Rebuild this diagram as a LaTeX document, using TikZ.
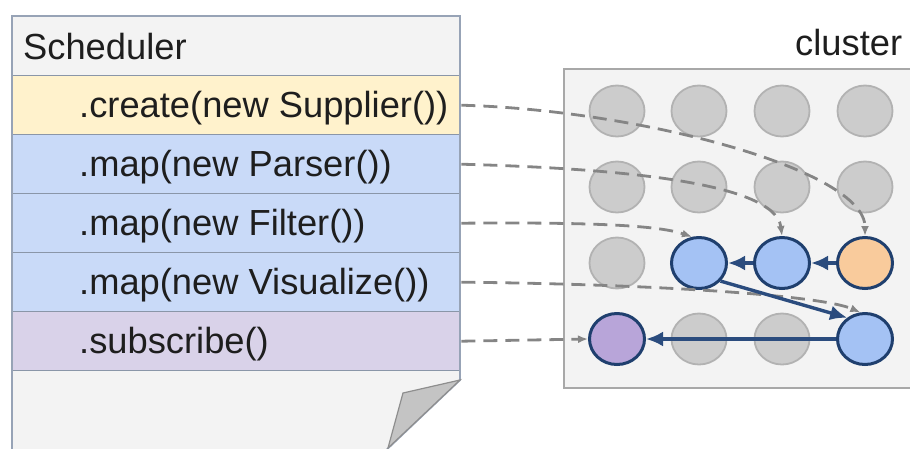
\documentclass[tikz,border=0pt]{standalone}
\usepackage{fontspec}
\setmainfont{Liberation Sans}
\usetikzlibrary{arrows.meta,shapes.geometric}

\definecolor{pagebg}{HTML}{F3F3F3}
\definecolor{pageline}{HTML}{97A3B6}
\definecolor{rowline}{HTML}{8A96A8}
\definecolor{supplyc}{HTML}{FFF2CC}
\definecolor{mapc}{HTML}{C9DAF8}
\definecolor{subc}{HTML}{D9D2E9}
\definecolor{textc}{HTML}{1E1E1E}
\definecolor{foldc}{HTML}{C4C4C4}
\definecolor{foldline}{HTML}{8E8E8E}
\definecolor{clusterline}{HTML}{A8A8A8}
\definecolor{idlefill}{HTML}{CCCCCC}
\definecolor{idleline}{HTML}{B2B2B2}
\definecolor{workfill}{HTML}{A4C2F4}
\definecolor{srcfill}{HTML}{F9CB9C}
\definecolor{sinkfill}{HTML}{B8A5D9}
\definecolor{nodeline}{HTML}{1F3F6E}
\definecolor{flowc}{HTML}{2B4C7E}
\definecolor{dashc}{HTML}{858585}

\begin{document}
\begin{tikzpicture}[x=1pt,y=-1pt,
  rowbox/.style={draw=rowline, line width=1.4pt, minimum width=448pt,
    minimum height=59pt, inner sep=0pt, anchor=north west},
  rowtext/.style={anchor=base west, inner sep=0pt, text=textc,
    font=\fontsize{36.3}{42}\selectfont},
  worker/.style={ellipse, minimum width=55pt, minimum height=51pt, inner sep=0pt},
  idle/.style={worker, fill=idlefill, draw=idleline, line width=1.8pt},
  busy/.style={worker, draw=nodeline, line width=3pt},
  flow/.style={draw=flowc, line width=3.4pt, -{Latex[length=17pt,width=15pt]}},
  assign/.style={draw=dashc, line width=2.8pt, dash pattern=on 14pt off 8pt,
    -{Latex[length=10pt,width=8pt]}}
]
\useasboundingbox (0,0) rectangle (910,448);

% scheduler page with folded corner
\fill[pagebg] (12,16) -- (460,16) -- (460,380) -- (381,455) -- (12,455) -- cycle;
\node[rowbox, fill=pagebg]  (hdr) at (12,16)  {};
\node[rowbox, fill=supplyc] (r1)  at (12,75)  {};
\node[rowbox, fill=mapc]    (r2)  at (12,134) {};
\node[rowbox, fill=mapc]    (r3)  at (12,193) {};
\node[rowbox, fill=mapc]    (r4)  at (12,252) {};
\node[rowbox, fill=subc]    (r5)  at (12,311) {};
\draw[pageline, line width=1.8pt] (12,455) -- (12,16) -- (460,16) -- (460,380) -- (381,455);
\filldraw[fill=foldc, draw=foldline, line width=1.2pt] (460,380) -- (403,393) -- (388,448) -- cycle;

\node[rowtext] (t0) at (23,59)  {Scheduler};
\node[rowtext] (t1) at (79,117) {.create(new Supplier())};
\node[rowtext] (t2) at (79,176) {.map(new Parser())};
\node[rowtext] (t3) at (79,235) {.map(new Filter())};
\node[rowtext] (t4) at (79,294) {.map(new Visualize())};
\node[rowtext] (t5) at (79,353) {.subscribe()};

% cluster of workers
\node[rowtext] (cl) at (795,55) {cluster};
\filldraw[fill=pagebg, draw=clusterline, line width=1.8pt] (564,69) rectangle (916,388);

\node[idle] (n11) at (617,111) {};
\node[idle] (n12) at (699,111) {};
\node[idle] (n13) at (782,111) {};
\node[idle] (n14) at (865,111) {};
\node[idle] (n21) at (617,187) {};
\node[idle] (n22) at (699,187) {};
\node[idle] (n23) at (782,187) {};
\node[idle] (n24) at (865,187) {};
\node[idle] (n31) at (617,263) {};
\node[busy, fill=workfill] (n32) at (699,263) {};
\node[busy, fill=workfill] (n33) at (782,263) {};
\node[busy, fill=srcfill]  (n34) at (865,263) {};
\node[busy, fill=sinkfill] (n41) at (617,339) {};
\node[idle] (n42) at (699,339) {};
\node[idle] (n43) at (782,339) {};
\node[busy, fill=workfill] (n44) at (865,339) {};

% placement of each stage
\draw[assign] (r1.east) .. controls (640,110) and (865,170) .. (n34.north);
\draw[assign] (r2.east) .. controls (600,168) and (775,180) .. (n33.north);
\draw[assign] (r3.east) .. controls (600,222) and (660,226) .. (n32.105);
\draw[assign] (r4.east) .. controls (650,284) and (820,295) .. (n44.100);
\draw[assign] (r5.east) -- (n41.west);

% data flow between workers
\draw[flow] (n34) -- (n33);
\draw[flow] (n33) -- (n32);
\draw[flow] (n32.-40) -- (n44.130);
\draw[flow] (n44) -- (n41);
\end{tikzpicture}
\end{document}
